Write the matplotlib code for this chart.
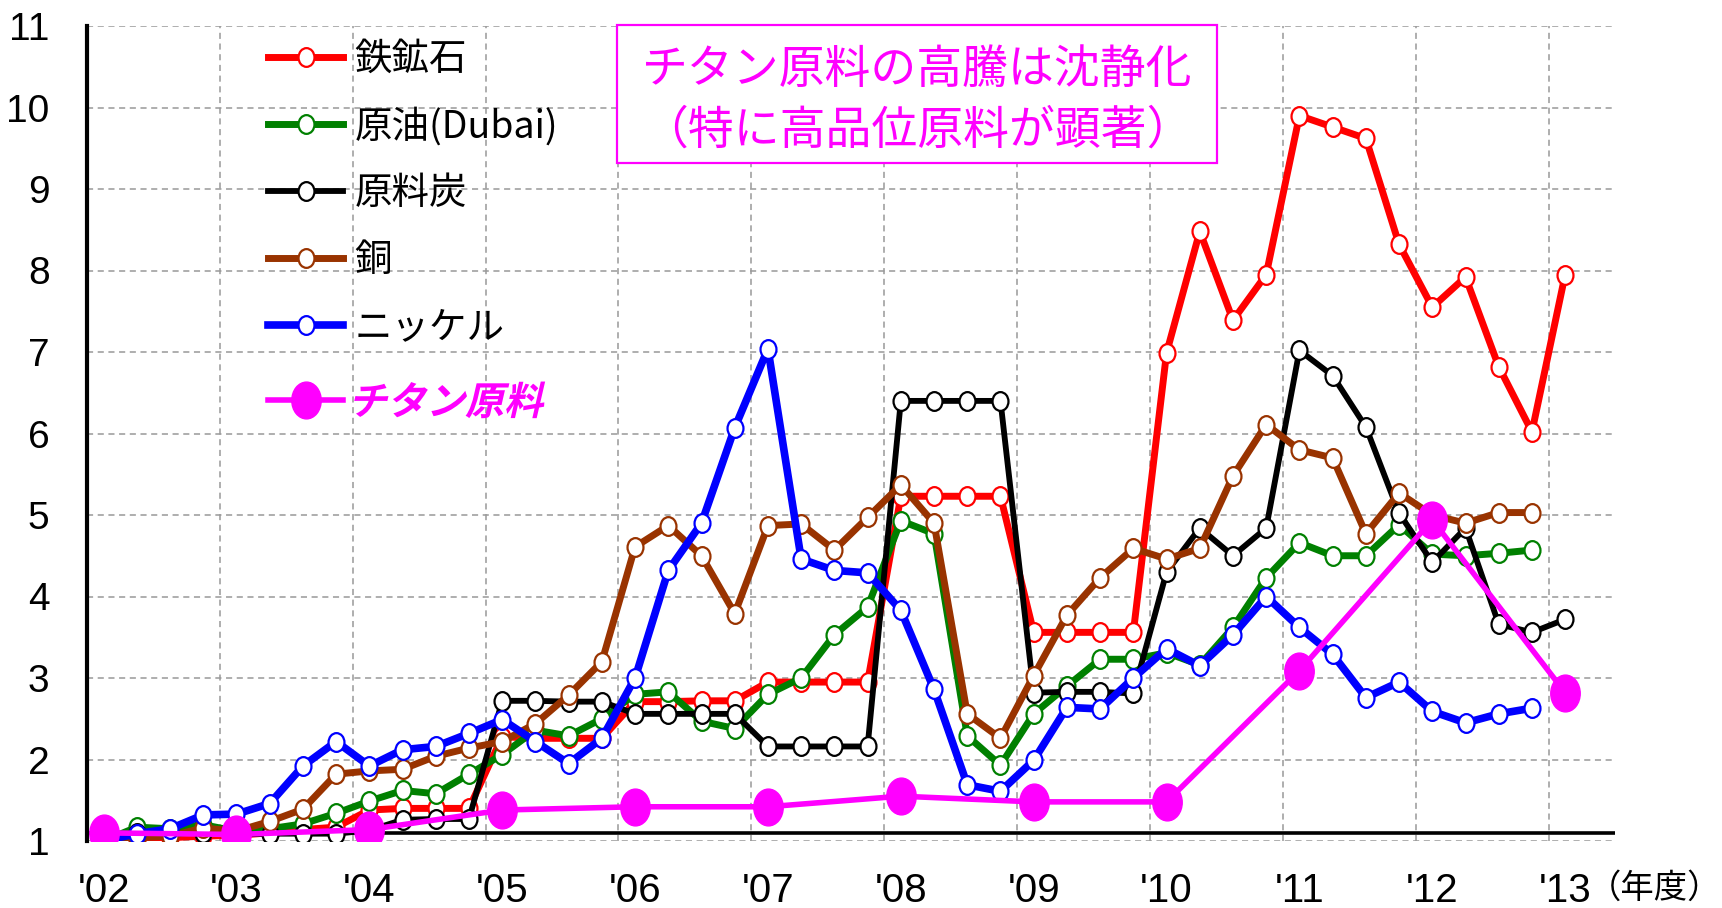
import numpy as np
import matplotlib.pyplot as plt
from matplotlib.path import Path
from matplotlib.textpath import TextPath
from matplotlib.patches import PathPatch, Rectangle
from matplotlib.font_manager import FontProperties
from matplotlib.transforms import Affine2D

plt.rcParams['font.family'] = ['Noto Sans CJK JP', 'DejaVu Sans']
NUM_FONT = ['Liberation Sans Narrow', 'Liberation Sans', 'DejaVu Sans']

# 年度ラベル（四半期データ、4四半期ごとに年度）
years = ["'02", "'03", "'04", "'05", "'06", "'07", "'08", "'09", "'10", "'11", "'12", "'13"]

# 指数（'02 = 1）四半期ごと
iron_ore = [1.0, 1.02, 1.04, 1.06, 1.07, 1.1, 1.14, 1.17,
            1.38, 1.4, 1.4, 1.4, 2.28, 2.26, 2.26, 2.26,
            2.71, 2.71, 2.72, 2.72, 2.95, 2.95, 2.95, 2.95,
            5.23, 5.23, 5.23, 5.23, 3.56, 3.56, 3.56, 3.56,
            6.99, 8.48, 7.39, 7.95, 9.9, 9.76, 9.62, 8.32,
            7.55, 7.92, 6.82, 6.02, 7.95]
crude_oil = [1.0, 1.17, 1.15, 1.2, 1.12, 1.15, 1.21, 1.34,
             1.49, 1.62, 1.58, 1.82, 2.06, 2.36, 2.29, 2.5,
             2.8, 2.83, 2.47, 2.38, 2.8, 3.0, 3.53, 3.87,
             4.93, 4.77, 2.29, 1.93, 2.56, 2.9, 3.23, 3.23,
             3.31, 3.16, 3.62, 4.23, 4.66, 4.5, 4.5, 4.88,
             4.52, 4.5, 4.53, 4.57]
coking_coal = [1.0, 1.1, 1.1, 1.1, 1.08, 1.09, 1.09, 1.09,
               1.13, 1.26, 1.27, 1.27, 2.72, 2.72, 2.71, 2.71,
               2.56, 2.56, 2.56, 2.56, 2.16, 2.16, 2.16, 2.16,
               6.4, 6.4, 6.4, 6.4, 2.82, 2.83, 2.83, 2.81,
               4.3, 4.84, 4.5, 4.84, 7.02, 6.71, 6.08, 5.02,
               4.42, 4.84, 3.66, 3.56, 3.72]
copper = [1.0, 1.04, 1.06, 1.16, 1.12, 1.24, 1.39, 1.82,
          1.86, 1.88, 2.04, 2.14, 2.22, 2.44, 2.79, 3.2,
          4.61, 4.87, 4.5, 3.79, 4.87, 4.89, 4.57, 4.97,
          5.37, 4.9, 2.56, 2.26, 3.03, 3.77, 4.23, 4.59,
          4.46, 4.59, 5.48, 6.11, 5.8, 5.7, 4.77, 5.27,
          5.0, 4.9, 5.03, 5.03]
nickel = [1.0, 1.09, 1.15, 1.32, 1.33, 1.46, 1.92, 2.22,
          1.92, 2.12, 2.16, 2.32, 2.49, 2.22, 1.95, 2.26,
          3.0, 4.32, 4.9, 6.07, 7.04, 4.46, 4.32, 4.29,
          3.83, 2.86, 1.69, 1.61, 1.99, 2.64, 2.62, 3.0,
          3.36, 3.15, 3.53, 4.0, 3.62, 3.29, 2.76, 2.95,
          2.59, 2.45, 2.56, 2.63]
# チタン原料（年度ごと）
titanium = [1.1, 1.08, 1.14, 1.38, 1.42, 1.42, 1.55, 1.48, 1.48, 3.09, 4.94, 2.82]

W, H = 1722, 908
fig = plt.figure(figsize=(W / 100, H / 100), dpi=100)
ax = fig.add_axes([87 / W, 1 - 841 / H, (1615 - 87) / W, (841 - 26) / H])

# 縦長の楕円マーカー
circ = Path.unit_circle()
open_mk = Path(circ.vertices * [0.85, 1.0], circ.codes)
pink_mk = Path(circ.vertices * [0.8, 1.0], circ.codes)

series = [
    ("鉄鉱石", iron_ore, "#ff0000", 5.0),
    ("原油(Dubai)", crude_oil, "#008000", 5.0),
    ("原料炭", coking_coal, "#000000", 4.2),
    ("銅", copper, "#993300", 5.0),
    ("ニッケル", nickel, "#0000ff", 5.5),
]
for i, (name, vals, col, lw) in enumerate(series):
    ax.plot(np.arange(len(vals)), vals, color=col, lw=lw, marker=open_mk, ms=13.5,
            mfc="white", mec=col, mew=1.6, label=name, zorder=3 + i,
            solid_joinstyle="round")

ax.plot(np.arange(len(titanium)) * 4, titanium, color="#ff00ff", lw=4, marker=pink_mk,
        ms=26.5, mfc="#ff00ff", mec="#ff00ff", label="チタン原料", zorder=10)

# 横軸の黒線
ax.axhline(1.1, color="black", lw=2.6, zorder=2)

ax.set_xlim(-0.5, 45.5)
ax.set_ylim(1, 11)
ax.set_yticks(range(1, 12))
ax.set_yticklabels([str(v) for v in range(1, 12)], fontfamily=NUM_FONT, fontsize=28)
ax.set_xticks(np.arange(0, 45, 4))
ax.set_xticklabels(years, fontfamily=NUM_FONT, fontsize=29)
ax.set_xticks(np.arange(3.5, 44, 4), minor=True)
ax.tick_params(axis="both", which="both", length=0)
ax.tick_params(axis="y", pad=27)
ax.tick_params(axis="x", pad=22)

grid_kw = dict(color="#999999", lw=1.1, ls=(0, (4, 3)))
ax.yaxis.grid(True, **grid_kw)
ax.xaxis.grid(True, which="minor", **grid_kw)
ax.xaxis.grid(False, which="major")
ax.set_axisbelow(True)

for s in ["top", "right", "bottom"]:
    ax.spines[s].set_visible(False)
ax.spines["left"].set_linewidth(3)

fig.text(1588 / W, 1 - 888 / H, "（年度）", fontsize=24, ha="left", va="center")

# 注記ボックス
box = Rectangle((617 / W, 1 - 163 / H), 600 / W, 138 / H, transform=fig.transFigure,
                facecolor="white", edgecolor="#ff00ff", lw=1.6, zorder=5)
fig.add_artist(box)
fig.text(917 / W, 1 - 70 / H, "チタン原料の高騰は沈静化", fontsize=33, color="#ff00ff",
         ha="center", va="center", zorder=6)
fig.text(917 / W, 1 - 130 / H, "（特に高品位原料が顕著）", fontsize=33, color="#ff00ff",
         ha="center", va="center", zorder=6)

leg = ax.legend(loc="upper left", bbox_to_anchor=(268 / W, 1 - 40 / H),
                bbox_transform=fig.transFigure, frameon=False, fontsize=27,
                handlelength=2.0, handletextpad=0.3, labelspacing=0.75,
                borderpad=0, borderaxespad=0, numpoints=1)
last = leg.get_texts()[-1]
last.set_fontsize(34)
last.set_color("none")

# チタン原料の凡例を斜体で描く
fig.canvas.draw()
bb = last.get_window_extent()
tp = TextPath((0, 0), "チタン原料", size=39,
              prop=FontProperties(family="Noto Sans CJK JP", weight="bold"))
skew = Affine2D().skew_deg(13, 0)
ext = tp.transformed(skew).get_extents()
tr = skew + Affine2D().translate(bb.x0 - ext.x0, (bb.y0 + bb.y1) / 2 - (ext.y0 + ext.y1) / 2)
fig.add_artist(PathPatch(tp, transform=tr, facecolor="#ff00ff", lw=0, zorder=6))

fig.savefig("out.png", dpi=100)
